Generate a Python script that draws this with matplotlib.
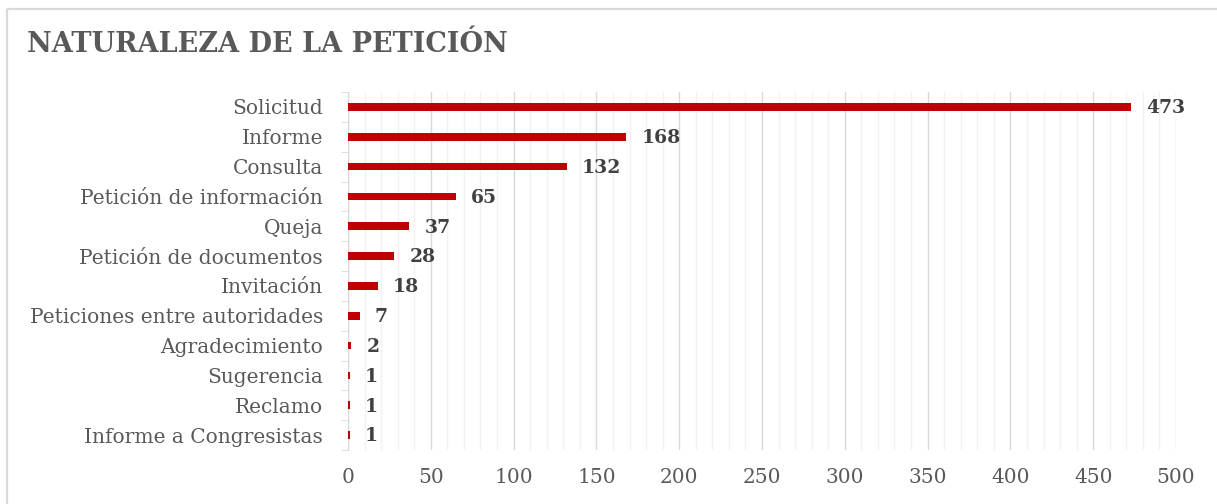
import matplotlib.pyplot as plt
from matplotlib.lines import Line2D
from matplotlib.ticker import MultipleLocator, FixedLocator

# Data
categories = ['Solicitud', 'Informe', 'Consulta', 'Petición de información', 'Queja',
              'Petición de documentos', 'Invitación', 'Peticiones entre autoridades',
              'Agradecimiento', 'Sugerencia', 'Reclamo', 'Informe a Congresistas']
values = [473, 168, 132, 65, 37, 28, 18, 7, 2, 1, 1, 1]
x_ticks = [0, 50, 100, 150, 200, 250, 300, 350, 400, 450, 500]

W, H = 1217, 504
fig = plt.figure(figsize=(W / 100, H / 100), dpi=100)
fig.patch.set_facecolor('white')

# chart frame: only top and left edges are visible in the crop
fx, fy = 7 / W, 1 - 9 / H
fig.add_artist(Line2D([fx, 1.01], [fy, fy], transform=fig.transFigure, color='#d9d9d9', lw=1.6,
                      solid_capstyle='butt'))
fig.add_artist(Line2D([fx, fx], [-0.01, fy], transform=fig.transFigure, color='#d9d9d9', lw=1.6,
                      solid_capstyle='butt'))

ax = fig.add_axes([348 / W, 1 - 450 / H, (1176 - 348) / W, (450 - 92) / H])
pos = list(range(len(categories)))
ax.barh(pos, values, height=0.26, color='#c00000', zorder=3)
ax.set_ylim(len(categories) - 0.5, -0.5)
ax.set_xlim(0, 500)

ax.set_xticks(x_ticks)
ax.xaxis.set_minor_locator(MultipleLocator(10))
ax.grid(axis='x', which='major', color='#d9d9d9', linewidth=1.0, zorder=0)
ax.grid(axis='x', which='minor', color='#f2f2f2', linewidth=1.0, zorder=0)
ax.tick_params(axis='x', which='both', length=0, pad=13)

ax.set_yticks(pos)
ax.set_yticklabels(categories)
ax.yaxis.set_minor_locator(FixedLocator([p + 0.5 for p in pos[:-1]] + [-0.5, len(categories) - 0.5]))
ax.tick_params(axis='y', which='major', length=0, pad=18)
ax.tick_params(axis='y', which='minor', length=5, color='#d9d9d9', direction='out')

for lbl in ax.get_xticklabels() + ax.get_yticklabels():
    lbl.set_fontfamily('DejaVu Serif')
    lbl.set_fontsize(14.5)
    lbl.set_color('#595959')

for s in ['top', 'right', 'bottom']:
    ax.spines[s].set_visible(False)
ax.spines['left'].set_color('#d9d9d9')

for p, v in zip(pos, values):
    ax.annotate(str(v), (v, p), xytext=(11, -1), textcoords='offset points',
                va='center', ha='left', fontsize=13.5, fontweight='bold',
                family='DejaVu Serif', color='#404040')

fig.text(27 / W, 1 - 44 / H, 'NATURALEZA DE LA PETICIÓN', family='DejaVu Serif',
         fontsize=19.5, fontweight='bold', color='#595959', va='center', ha='left')

fig.savefig('out.png', dpi=100)
